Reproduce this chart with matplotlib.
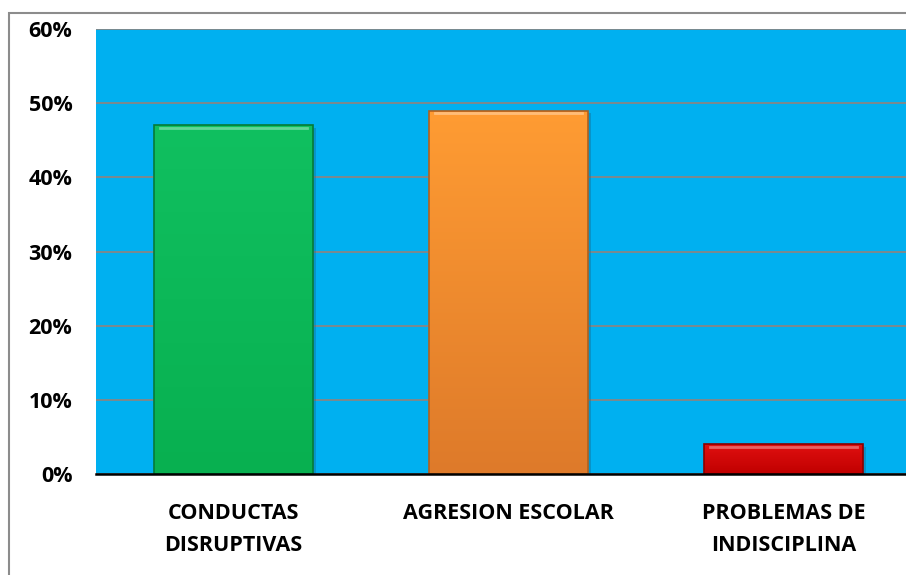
import numpy as np
import matplotlib.pyplot as plt
from matplotlib.patches import Rectangle
from matplotlib.colors import LinearSegmentedColormap

categories = ["CONDUCTAS\nDISRUPTIVAS", "AGRESION ESCOLAR", "PROBLEMAS DE\nINDISCIPLINA"]
values = [47, 49, 4]
yticks = [0, 10, 20, 30, 40, 50, 60]

# colores (arriba, abajo)
bar_colors = [("#10C060", "#08B050"), ("#FF9C33", "#DE7A2A"), ("#E01010", "#C00000")]
edge_colors = ["#067A38", "#B0601E", "#8A0000"]

plt.rcParams['font.family'] = ['Open Sans', 'DejaVu Sans']

fig = plt.figure(figsize=(9.06, 5.75), dpi=100)
ax = fig.add_axes([96 / 906, 1 - 474 / 575, 825 / 906, 445 / 575])
ax.set_facecolor("#00B0F0")

# marco exterior del gráfico
fig.patches.append(Rectangle((9 / 906, -0.1), 1.2, 1 - 13 / 575 + 0.1, transform=fig.transFigure,
                             fill=False, edgecolor="#8C8C8C", linewidth=1.5, zorder=0))

x = np.arange(len(categories))
w = 0.575
for i, v in enumerate(values):
    top, bot = bar_colors[i]
    # sombra
    ax.add_patch(Rectangle((x[i] - w / 2 + 0.012, 0), w, v - 0.3, facecolor="#1A5E80",
                           alpha=0.35, edgecolor="none", zorder=2))
    cmap = LinearSegmentedColormap.from_list("g", [top, bot])
    grad = np.linspace(0, 1, 256).reshape(-1, 1)
    im = ax.imshow(grad, extent=[x[i] - w / 2, x[i] + w / 2, 0, v], aspect="auto",
                   cmap=cmap, origin="upper", zorder=3)
    rect = Rectangle((x[i] - w / 2, 0), w, v, facecolor="none",
                     edgecolor=edge_colors[i], linewidth=1.2, zorder=4)
    ax.add_patch(rect)
    im.set_clip_path(rect)
    # brillo del borde superior
    ax.plot([x[i] - w / 2 + 0.02, x[i] + w / 2 - 0.02], [v - 0.35, v - 0.35],
            color="white", alpha=0.35, linewidth=2, zorder=5)

ax.set_xlim(-0.5, 2.5)
ax.set_ylim(0, 60)
ax.set_yticks(yticks)
ax.set_yticklabels([f"{t}%" for t in yticks], fontsize=15.5, fontweight="bold")
ax.set_xticks(x)
ax.set_xticklabels(categories, fontsize=15.5, fontweight="bold", linespacing=1.7)
ax.tick_params(axis="y", length=0, pad=17)
ax.tick_params(axis="x", length=0, pad=21)
ax.grid(axis="y", color="#868686", linewidth=1.3, zorder=1)
ax.set_axisbelow(True)
for s in ["left", "right", "top"]:
    ax.spines[s].set_visible(False)
ax.spines["bottom"].set_color("black")
ax.spines["bottom"].set_linewidth(1.8)
ax.spines["bottom"].set_zorder(6)

fig.savefig("out.png", dpi=100)
